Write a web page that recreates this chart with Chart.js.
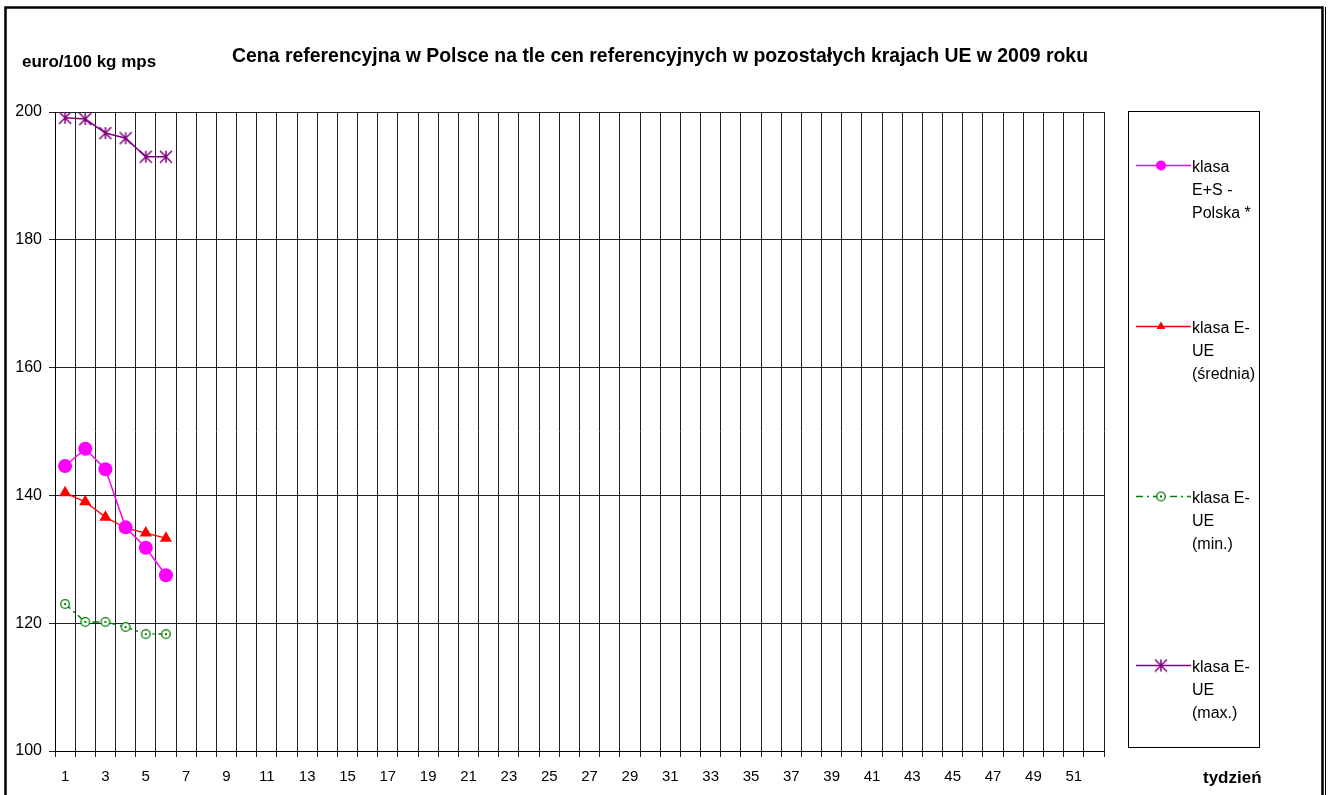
<!DOCTYPE html>
<html>
<head>
<meta charset="utf-8">
<script src="https://cdn.jsdelivr.net/npm/chart.js@4"></script>
<style>
  body { margin: 0; background: #fff; }
</style>
</head>
<body>
<canvas id="chart" width="1332" height="795"></canvas>
<script>
// weeks of 2009
const weeks = ['1','2','3','4','5','6','7','8','9','10','11','12','13','14','15','16','17','18','19','20',
  '21','22','23','24','25','26','27','28','29','30','31','32','33','34','35','36','37','38','39','40',
  '41','42','43','44','45','46','47','48','49','50','51','52'];

// euro/100 kg
const polska = [144.6, 147.3, 144.1, 135.0, 131.8, 127.5];
const ueAvg = [140.4, 139.0, 136.6, 134.9, 134.1, 133.3];
const ueMin = [123.0, 120.2, 120.2, 119.4, 118.3, 118.3];
const ueMax = [199.1, 198.9, 196.7, 195.9, 193.0, 193.0];

const legendLabels = [
  ['klasa', 'E+S -', 'Polska *'],
  ['klasa E-', 'UE', '(średnia)'],
  ['klasa E-', 'UE', '(min.)'],
  ['klasa E-', 'UE', '(max.)']
];

const FONT = '"Liberation Sans", Arial, sans-serif';

// excel-like markers
function starMarker(color, r) {
  const c = document.createElement('canvas');
  c.width = c.height = r * 2 + 2;
  const g = c.getContext('2d');
  const m = r + 1;
  g.strokeStyle = color;
  g.lineWidth = 1.5;
  g.beginPath();
  g.moveTo(m - r, m - r); g.lineTo(m + r, m + r);
  g.moveTo(m + r, m - r); g.lineTo(m - r, m + r);
  g.moveTo(m, m - r); g.lineTo(m, m + r);
  g.stroke();
  return c;
}

function ringMarker(color, r) {
  const c = document.createElement('canvas');
  c.width = c.height = r * 2 + 2;
  const g = c.getContext('2d');
  const m = r + 1;
  g.strokeStyle = color;
  g.fillStyle = '#fff';
  g.lineWidth = 1.3;
  g.beginPath();
  g.arc(m, m, r - 0.7, 0, Math.PI * 2);
  g.fill();
  g.stroke();
  g.fillStyle = color;
  g.fillRect(m - 1, m - 1, 2, 2);
  return c;
}

const starImg = starMarker('#800080', 6);
const ringImg = ringMarker('#008000', 5);

const datasets = [
  { label: 'polska', data: polska, borderColor: '#ff00ff', backgroundColor: '#ff00ff',
    pointStyle: 'circle', pointRadius: 7, pointBorderWidth: 0, borderWidth: 1.5 },
  { label: 'avg', data: ueAvg, borderColor: '#ff0000', backgroundColor: '#ff0000',
    pointStyle: 'triangle', pointRadius: 7, pointBorderWidth: 0, borderWidth: 1.3 },
  { label: 'min', data: ueMin, borderColor: '#008000', backgroundColor: '#008000',
    pointStyle: ringImg, pointRadius: 5, borderDash: [7, 4, 2, 4], borderWidth: 1.5 },
  { label: 'max', data: ueMax, borderColor: '#800080', backgroundColor: '#800080',
    pointStyle: starImg, pointRadius: 6, borderWidth: 1.5 }
];
datasets.forEach(d => { d.tension = 0; d.fill = false; });

const decor = {
  id: 'decor',
  beforeDraw(chart) {
    const ctx = chart.ctx;
    ctx.save();
    ctx.fillStyle = '#fff';
    ctx.fillRect(0, 0, chart.width, chart.height);
    ctx.restore();
  },
  afterDraw(chart) {
    const ctx = chart.ctx;
    ctx.save();
    // frame
    ctx.strokeStyle = '#000';
    ctx.lineWidth = 2.5;
    ctx.strokeRect(5.5, 7.5, 1317, 800);
    ctx.lineWidth = 1;
    ctx.beginPath();
    ctx.moveTo(1325.5, 7); ctx.lineTo(1325.5, 795);
    ctx.stroke();

    // texts
    ctx.fillStyle = '#000';
    ctx.textBaseline = 'middle';
    ctx.font = 'bold 19.5px ' + FONT;
    ctx.textAlign = 'center';
    ctx.fillText('Cena referencyjna w Polsce na tle cen referencyjnych w pozostałych krajach UE w 2009 roku', 660, 57, 856);
    ctx.font = 'bold 17px ' + FONT;
    ctx.textAlign = 'left';
    ctx.fillText('euro/100 kg mps', 22, 62);
    ctx.fillText('tydzień', 1203, 778);

    // legend
    const bx = 1128, by = 111, bw = 131, bh = 636;
    ctx.lineWidth = 1;
    ctx.strokeStyle = '#000';
    ctx.strokeRect(bx + 0.5, by + 0.5, bw, bh);
    const rows = [165, 326, 496, 665];
    chart.data.datasets.forEach((ds, i) => {
      const y = rows[i];
      ctx.save();
      ctx.strokeStyle = ds.borderColor;
      ctx.lineWidth = ds.borderWidth;
      ctx.setLineDash(ds.borderDash || []);
      ctx.beginPath();
      ctx.moveTo(1136, y + 0.5); ctx.lineTo(1191, y + 0.5);
      ctx.stroke();
      ctx.restore();
      ctx.fillStyle = ds.backgroundColor;
      ctx.strokeStyle = ds.borderColor;
      Chart.helpers.drawPoint(ctx, {
        pointStyle: ds.pointStyle,
        radius: Math.max(3, ds.pointRadius - 2),
        borderWidth: 0,
        rotation: 0
      }, 1161, y + 0.5);
      ctx.save();
      ctx.beginPath();
      ctx.rect(bx, by, bw, bh);
      ctx.clip();
      ctx.fillStyle = '#000';
      ctx.font = '16px ' + FONT;
      ctx.textAlign = 'left';
      ctx.textBaseline = 'middle';
      legendLabels[i].forEach((t, k) => ctx.fillText(t, 1192, y + 3 + k * 23));
      ctx.restore();
    });
    ctx.restore();
  }
};

new Chart(document.getElementById('chart'), {
  type: 'line',
  data: { labels: weeks, datasets: datasets },
  plugins: [decor],
  options: {
    responsive: false,
    animation: false,
    layout: { padding: { left: 0, top: 112, right: 228, bottom: 0 } },
    plugins: {
      legend: { display: false },
      tooltip: { enabled: false }
    },
    scales: {
      x: {
        type: 'category',
        offset: true,
        afterFit: (s) => { s.height = 44; },
        grid: { offset: true, color: '#222', lineWidth: 1, tickLength: 6 },
        border: { color: '#000', width: 1 },
        ticks: {
          autoSkip: false,
          maxRotation: 0,
          color: '#000',
          padding: 11,
          font: { family: FONT, size: 15 },
          callback: (v, i) => (i % 2 === 0 ? weeks[i] : '')
        }
      },
      y: {
        min: 100,
        max: 200,
        afterFit: (s) => { s.width = 55; },
        grid: { color: '#222', lineWidth: 1, tickLength: 6 },
        border: { color: '#000', width: 1 },
        ticks: {
          stepSize: 20,
          color: '#000',
          padding: 7,
          font: { family: FONT, size: 16 }
        }
      }
    }
  }
});
</script>
</body>
</html>
